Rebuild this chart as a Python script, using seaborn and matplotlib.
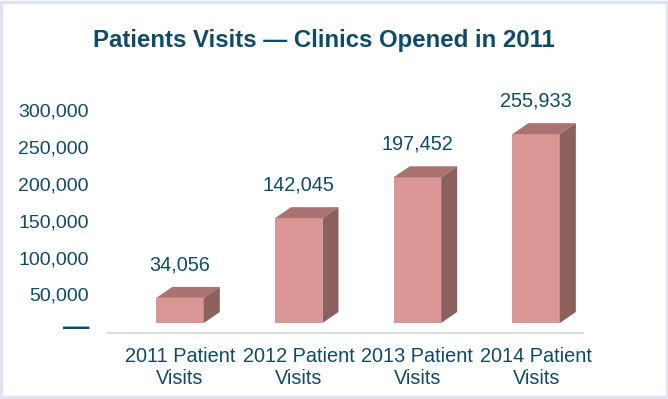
import matplotlib
matplotlib.use("Agg")
import matplotlib.pyplot as plt
import matplotlib.transforms as mtransforms
from matplotlib.patches import Polygon, Rectangle
import seaborn as sns

# données
categories = ["2011 Patient\nVisits", "2012 Patient\nVisits", "2013 Patient\nVisits", "2014 Patient\nVisits"]
visits = [34056, 142045, 197452, 255933]
yticks = [0, 50000, 100000, 150000, 200000, 250000, 300000]
ytick_labels = ["—", "50,000", "100,000", "150,000", "200,000", "250,000", "300,000"]

# couleurs
text_col = "#0f4a66"
front_col = "#d99694"
top_col = "#a87371"
side_col = "#8c605d"

sns.set_style("white")
plt.rcParams['font.family'] = ['Liberation Sans', 'DejaVu Sans']

fig = plt.figure(figsize=(6.68, 3.99), dpi=100)
fig.patch.set_facecolor("white")
fig.patches.append(Rectangle((0.002, 0.004), 0.996, 0.992, transform=fig.transFigure,
                             fill=False, edgecolor="#dfe4ee", linewidth=2.5))

ax = fig.add_axes([108 / 668, 66 / 399, 475 / 668, 238 / 399])
sns.barplot(x=categories, y=visits, color=front_col, saturation=1, width=0.4,
            linewidth=0, ax=ax, zorder=3)

ax.set_xlim(-0.607, 3.395)
ax.set_ylim(-13550, 309000)

# profondeur 3D en pixels
fig.canvas.draw()
inv = ax.transData.inverted()
x0, y0 = inv.transform((0, 0))
x1, y1 = inv.transform((16, 11))
ddx, ddy = x1 - x0, y1 - y0

for p in ax.patches[:len(visits)]:
    xl = p.get_x()
    xr = xl + p.get_width()
    yb = p.get_y()
    yt = yb + p.get_height()
    top = Polygon([(xl, yt), (xr, yt), (xr + ddx, yt + ddy), (xl + ddx, yt + ddy)],
                  closed=True, facecolor=top_col, edgecolor="none", zorder=3)
    side = Polygon([(xr, yb), (xr, yt), (xr + ddx, yt + ddy), (xr + ddx, yb + ddy)],
                   closed=True, facecolor=side_col, edgecolor="none", zorder=3)
    ax.add_patch(top)
    ax.add_patch(side)

# étiquettes de valeurs
for i, v in enumerate(visits):
    ax.annotate(f"{v:,}", (i, v), xytext=(0, 24), textcoords="offset points",
                ha="center", va="center", fontsize=14.3, color=text_col, annotation_clip=False)

ax.set_yticks(yticks)
ax.set_yticklabels(ytick_labels)
ax.tick_params(axis="y", length=0, pad=13.7, labelsize=14, labelcolor=text_col)
ax.tick_params(axis="x", length=0, pad=10, labelsize=14.3, labelcolor=text_col)
ylabs = ax.get_yticklabels()
for lab in ylabs[1:]:
    lab.set_transform(lab.get_transform() + mtransforms.ScaledTranslation(0, -6 / 72, fig.dpi_scale_trans))
zero_lab = ylabs[0]
zero_lab.set_transform(zero_lab.get_transform() + mtransforms.ScaledTranslation(0, -2 / 72, fig.dpi_scale_trans))
zero_lab.set_fontsize(19)
zero_lab.set_fontweight("bold")
for lab in ax.get_xticklabels():
    lab.set_linespacing(1.2)

sns.despine(ax=ax, left=True)
ax.spines["bottom"].set_color("#d9dde6")
ax.spines["bottom"].set_linewidth(1.5)
ax.set_xlabel("")
ax.set_ylabel("")

fig.text(324 / 668, 1 - 40 / 399, "Patients Visits — Clinics Opened in 2011",
         ha="center", va="center", fontsize=17.3, fontweight="bold", color=text_col)

plt.savefig("out.png", dpi=100)
plt.close()
